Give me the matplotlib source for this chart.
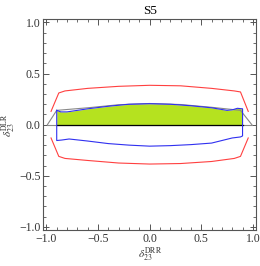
import numpy as np
import matplotlib.pyplot as plt
from matplotlib.ticker import MultipleLocator

# %% Data
red_x = [-0.955, -0.88, -0.82, -0.6, -0.3, 0.0, 0.3, 0.6, 0.82, 0.88, 0.955]
red_upper = [0.13, 0.31, 0.33, 0.355, 0.375, 0.385, 0.38, 0.355, 0.33, 0.32, 0.13]
red_lower = [-0.13, -0.31, -0.33, -0.35, -0.375, -0.385, -0.38, -0.36, -0.33, -0.31, -0.13]

blue_up_x = [-0.90, -0.86, -0.80, -0.6, -0.4, -0.2, 0.0, 0.2, 0.4, 0.6, 0.75, 0.8, 0.85, 0.90]
blue_upper = [0.14, 0.125, 0.125, 0.155, 0.18, 0.2, 0.205, 0.2, 0.185, 0.165, 0.14, 0.145, 0.16, 0.155]
blue_lo_x = [-0.90, -0.85, -0.78, -0.6, -0.4, -0.2, 0.0, 0.2, 0.4, 0.6, 0.8, 0.88, 0.90]
blue_lower = [-0.155, -0.15, -0.14, -0.16, -0.185, -0.2, -0.21, -0.205, -0.195, -0.18, -0.13, -0.12, -0.11]

gray_x = [-0.99, -0.90, -0.6, -0.3, 0.0, 0.3, 0.6, 0.88, 0.99]
gray_y = [0.0, 0.14, 0.165, 0.195, 0.207, 0.197, 0.17, 0.14, 0.0]

# %% Plot
plt.rcParams['font.family'] = ['Liberation Serif', 'DejaVu Serif']
plt.rcParams['mathtext.fontset'] = 'stix'

fig = plt.figure(figsize=(2.6, 2.66), dpi=100)
ax = fig.add_axes([0.1665, 0.1353, 0.818, 0.792])

ax.fill_between(blue_up_x, 0, blue_upper, color='#b5e21f', lw=0)
ax.plot(gray_x, gray_y, color='#888888', lw=0.8)
ax.plot([gray_x[0], gray_x[-1]], [0, 0], color='#888888', lw=0.8)
ax.plot([blue_up_x[0], blue_up_x[-1]], [0, 0], color='black', lw=0.9)

bx = blue_up_x + blue_lo_x[::-1] + [blue_up_x[0]]
by = blue_upper + blue_lower[::-1] + [blue_upper[0]]
ax.plot(bx, by, color='#3030f0', lw=0.8)

ax.plot(red_x, red_upper, color='#ff4040', lw=0.8)
ax.plot(red_x, red_lower, color='#ff4040', lw=0.8)

ax.set_xlim(-1.03, 1.03)
ax.set_ylim(-1.03, 1.03)
ax.xaxis.set_major_locator(MultipleLocator(0.5))
ax.yaxis.set_major_locator(MultipleLocator(0.5))
ax.xaxis.set_minor_locator(MultipleLocator(0.1))
ax.yaxis.set_minor_locator(MultipleLocator(0.1))
ax.tick_params(which='both', direction='in', top=True, right=True,
               color='#555555', labelsize=8.5, labelcolor='#333333', pad=2)
ax.tick_params(which='major', length=4, width=0.7)
ax.tick_params(which='minor', length=2, width=0.6)
for s in ax.spines.values():
    s.set_color('#555555')
    s.set_linewidth(0.8)

ax.set_title('S5', fontsize=9.5, pad=4)
ax.set_xlabel(r'$\delta_{23}^{\rm DRR}$', fontsize=8, labelpad=1, color='#333333')
ax.set_ylabel(r'$\delta_{23}^{\rm DLR}$', fontsize=8, labelpad=1, color='#333333')

plt.savefig('out.png')
